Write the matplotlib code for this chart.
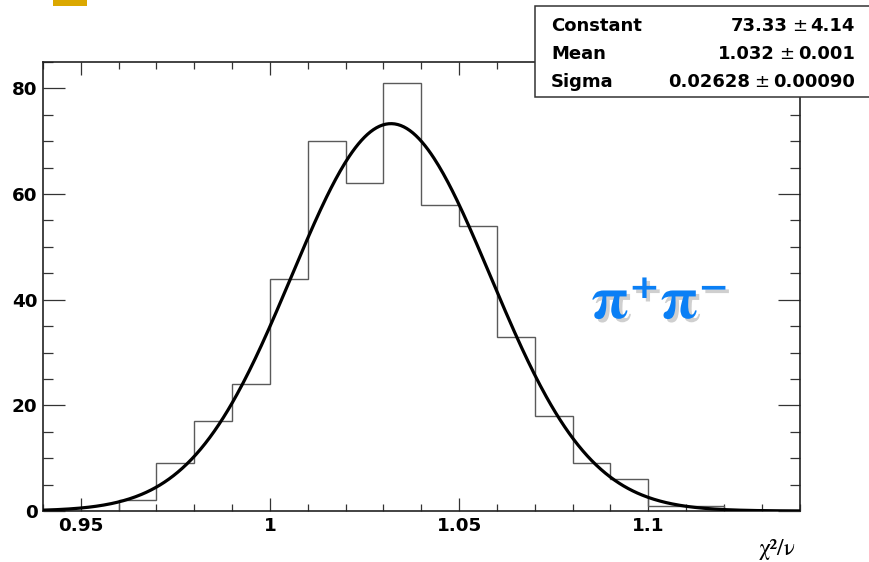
import numpy as np
import matplotlib
matplotlib.use("Agg")
import matplotlib.pyplot as plt
from matplotlib import patheffects
from matplotlib.patches import Rectangle
from matplotlib.ticker import MultipleLocator

W, H = 869, 562

# chi2/ndf distribution, 0.01-wide bins from 0.94 to 1.14
bin_edges = [0.94, 0.95, 0.96, 0.97, 0.98, 0.99, 1.00, 1.01, 1.02, 1.03, 1.04,
             1.05, 1.06, 1.07, 1.08, 1.09, 1.10, 1.11, 1.12, 1.13, 1.14]
counts = [0, 0, 2, 9, 17, 24, 44, 70, 62, 81, 58, 54, 33, 18, 9, 6, 1, 1, 0, 0]

# Gaussian fit parameters
fit_constant = 73.33
fit_mean = 1.032
fit_sigma = 0.02628
fit_names = ["Constant", "Mean", "Sigma"]
fit_values = ["73.33", "1.032", "0.02628"]
fit_errors = ["4.14", "0.001", "0.00090"]

xtick_pos = [0.95, 1.0, 1.05, 1.1]
xtick_labels = ["0.95", "1", "1.05", "1.1"]
ytick_pos = [0, 20, 40, 60, 80]
ytick_labels = ["0", "20", "40", "60", "80"]


def fx(px):
    return px / W


def fy(py):
    return 1.0 - py / H


fig = plt.figure(figsize=(W / 100, H / 100), dpi=100)
fig.patch.set_facecolor("white")

# small yellow marker in the top-left corner
fig.add_artist(Rectangle((fx(53), fy(6)), (87 - 53) / W, 6 / H,
                         transform=fig.transFigure, facecolor="#DBA800",
                         edgecolor="none"))

ax = fig.add_axes([fx(43), fy(511), (799.5 - 43) / W, (511 - 62) / H])

ax.stairs(counts, bin_edges, color="#5a5a5a", linewidth=1.0, zorder=2)

xs = np.linspace(bin_edges[0], bin_edges[-1], 500)
ys = fit_constant * np.exp(-0.5 * ((xs - fit_mean) / fit_sigma) ** 2)
ax.plot(xs, ys, color="black", linewidth=2.3, zorder=3, solid_capstyle="round")

ax.set_xlim(bin_edges[0], bin_edges[-1])
ax.set_ylim(0, 85)

ax.set_xticks(xtick_pos, xtick_labels)
ax.set_yticks(ytick_pos, ytick_labels)
ax.xaxis.set_minor_locator(MultipleLocator(0.01))
ax.yaxis.set_minor_locator(MultipleLocator(5))

ax.tick_params(axis="both", which="both", direction="in", top=True, right=True,
               colors="#333333", width=0.9, labelcolor="black")
ax.tick_params(axis="x", which="major", length=9.4, pad=4)
ax.tick_params(axis="x", which="minor", length=4.7)
ax.tick_params(axis="y", which="major", length=15.8, pad=4)
ax.tick_params(axis="y", which="minor", length=7.5)
for lab in ax.get_xticklabels() + ax.get_yticklabels():
    lab.set_fontsize(13.2)
    lab.set_fontweight("bold")
    lab.set_family("DejaVu Sans")

for sp in ax.spines.values():
    sp.set_linewidth(1.2)
    sp.set_color("#222222")

# axis title
fig.text(fx(795), fy(555), "χ²/ν", ha="right", va="baseline",
         fontsize=17, family=["STIXGeneral", "DejaVu Serif"], color="black")

# particle label
pp = fig.text(fx(591), fy(318), "π⁺π⁻", ha="left", va="baseline",
              fontsize=43, family=["STIXGeneral", "DejaVu Serif"],
              fontweight="bold", color="#0A7FF5")
pp.set_path_effects([
    patheffects.SimplePatchShadow(offset=(2.5, -2.5), shadow_rgbFace="#cfcfcf",
                                  alpha=1.0),
    patheffects.Normal(),
])

# fit statistics box
fig.add_artist(Rectangle((fx(535), fy(97)), (880 - 535) / W, (97 - 6) / H,
                         transform=fig.transFigure, facecolor="white",
                         edgecolor="#333333", linewidth=1.1, zorder=10))

baselines = [31, 59, 87]
stat_size = 13.0
renderer = fig.canvas.get_renderer()
for name, val, err, yb in zip(fit_names, fit_values, fit_errors, baselines):
    fig.text(fx(551), fy(yb), name, ha="left", va="baseline", fontsize=stat_size,
             fontweight="bold", family="DejaVu Sans", zorder=11)
    t_err = fig.text(fx(855), fy(yb), err, ha="right", va="baseline",
                     fontsize=stat_size, fontweight="bold", family="DejaVu Sans",
                     zorder=11)
    t_pm = fig.text(0, 0, "±", ha="right", va="baseline", fontsize=stat_size,
                    fontweight="normal", family="DejaVu Sans", zorder=11)
    t_val = fig.text(0, 0, val, ha="right", va="baseline", fontsize=stat_size,
                     fontweight="bold", family="DejaVu Sans", zorder=11)
    # chain the pieces right-to-left with small gaps
    bb = t_err.get_window_extent(renderer)
    t_pm.set_position((fx(bb.x0 - 4), fy(yb)))
    bb2 = t_pm.get_window_extent(renderer)
    t_val.set_position((fx(bb2.x0 - 4), fy(yb)))

fig.savefig("out.png", dpi=100, facecolor="white")
